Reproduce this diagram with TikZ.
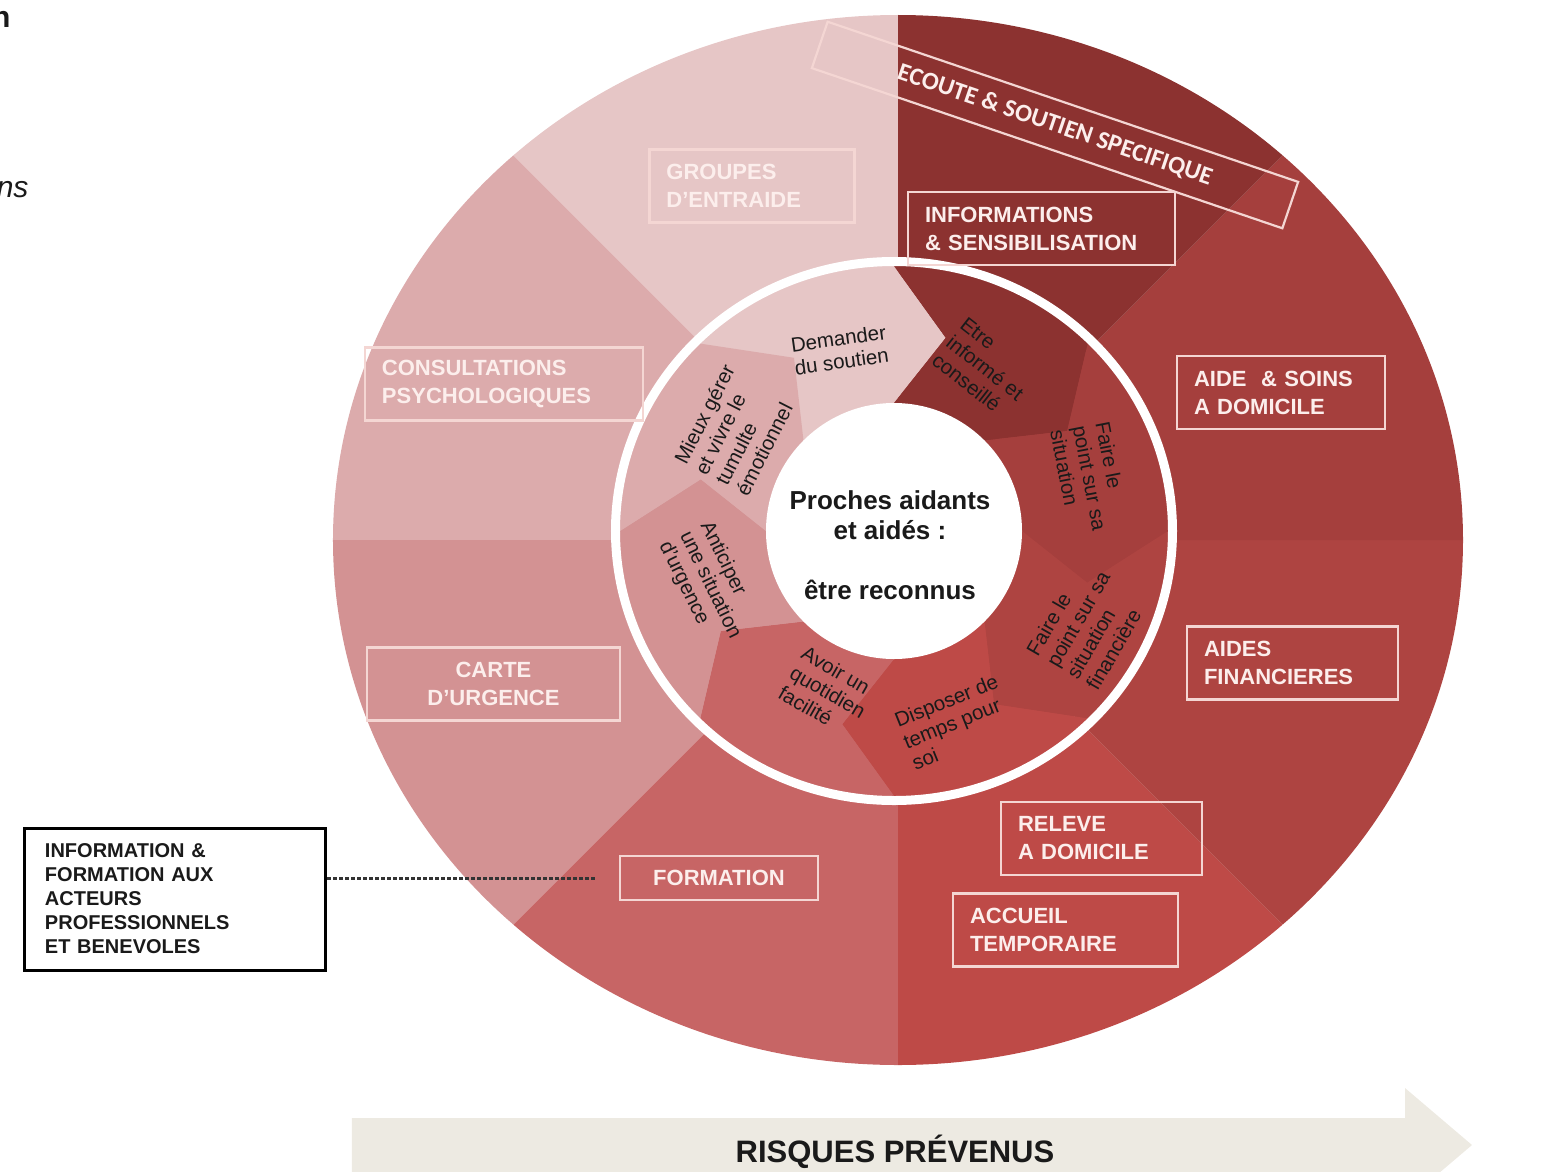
\documentclass[tikz,border=0pt]{standalone}
\usepackage{fontspec}
\setmainfont{Liberation Sans}
\newfontfamily\calibrifont{Carlito}
\definecolor{shadeI}{HTML}{E6C6C6}
\definecolor{shadeII}{HTML}{DCABAC}
\definecolor{shadeIII}{HTML}{D39293}
\definecolor{shadeIV}{HTML}{C76565}
\definecolor{shadeV}{HTML}{BE4A47}
\definecolor{shadeVI}{HTML}{AE4441}
\definecolor{shadeVII}{HTML}{A53F3D}
\definecolor{shadeVIII}{HTML}{8C3230}
\definecolor{tagline}{HTML}{F4D6D3}
\definecolor{tagtext}{HTML}{FCEEEC}
\definecolor{bandfill}{HTML}{EDEAE2}
\definecolor{ink}{HTML}{1A1A1A}
\tikzset{
  % boxes sitting on the outer ring; widths are set per box
  tag/.style      = {draw=tagline, line width=2.2pt, text=tagtext,
                     font=\bfseries\fontsize{22}{28}\selectfont, align=left,
                     inner xsep=17pt, inner ysep=0pt, minimum height=73pt},
  banner/.style   = {draw=tagline, line width=2.2pt, text=tagtext,
                     font=\calibrifont\bfseries\fontsize{25}{28}\selectfont,
                     rotate=-18.8, minimum width=497pt, minimum height=49pt,
                     inner sep=0pt},
  seglabel/.style = {text=ink, font=\fontsize{20.5}{23}\selectfont, align=left,
                     inner sep=0pt},
  centre/.style   = {text=ink, font=\bfseries\fontsize{26}{30}\selectfont,
                     align=center},
  actorbox/.style = {draw=black, line width=3pt, text=ink,
                     font=\bfseries\fontsize{20}{24}\selectfont, align=left,
                     text width=261pt, inner xsep=20pt, inner ysep=0pt,
                     minimum height=142pt},
  leader/.style   = {black!80, line width=3pt, dash pattern=on 4pt off 2pt,
                     shorten >=22pt},
}

\begin{document}
\begin{tikzpicture}[x=1pt, y=1pt]
    \useasboundingbox (-898,-631) rectangle (664,540);

    % outer ring, eight sectors
    \begin{scope}
        \clip (0,0) ellipse [x radius=565, y radius=525];
        \foreach \s/\c in {90/shadeI, 135/shadeII, 180/shadeIII, 225/shadeIV,
                           270/shadeV, 315/shadeVI, 0/shadeVII, 45/shadeVIII}
            \fill[\c] (0,0) -- (\s:900) -- ({\s+22.5}:900) -- ({\s+45}:900) -- cycle;
    \end{scope}

    % inner ring of chevrons, running clockwise
    \begin{scope}[shift={(-4,9)}]
        \foreach \s/\c in {135/shadeI, 90/shadeVIII, 45/shadeVII, 0/shadeVI,
                           -45/shadeV, -90/shadeIV, -135/shadeIII, 180/shadeII}
            \fill[\c] (\s:128) -- ({\s-15}:200) -- (\s:274 and 265)
                arc[start angle=\s, end angle={\s-45}, x radius=274, y radius=265]
                -- ({\s-60}:200) -- ({\s-45}:128)
                arc[start angle={\s-45}, end angle=\s, radius=128] -- cycle;
        \draw[white, line width=9pt] (0,0) ellipse [x radius=278.5, y radius=269.5];
        \fill[white] (0,0) circle [radius=128];
    \end{scope}

    \node[centre] (proches) at (-8,-5)
        {Proches aidants\\et aidés :\\[30pt]être reconnus};

    \node[seglabel, rotate=8, align=center] (soutien) at (-58,190) {Demander\\du soutien};
    \node[seglabel, rotate=-38] (informe)   at (87,172)   {Etre\\informé et\\conseillé};
    \node[seglabel, rotate=-79] (point)     at (192,62)   {Faire le\\point sur sa\\situation};
    \node[seglabel, rotate=60]  (finance)   at (190,-85)  {Faire le\\point sur sa\\situation\\financière};
    \node[seglabel, rotate=22]  (temps)     at (57,-182)  {Disposer de\\temps pour\\soi};
    \node[seglabel, rotate=-30] (quotidien) at (-70,-152) {Avoir un\\quotidien\\facilité};
    \node[seglabel, rotate=-64] (urgence)   at (-188,-45) {Anticiper\\une situation\\d'urgence};
    \node[seglabel, rotate=63]  (tumulte)   at (-163,110) {Mieux gérer\\et vivre le\\tumulte\\émotionnel};

    \node[tag, text width=171pt] (groupes) at (-146,354) {GROUPES\\D'ENTRAIDE};
    \node[tag, text width=233pt] (infos)   at (143.5,311.5) {INFORMATIONS\\\& SENSIBILISATION};
    \node[tag, text width=174pt] (soins)   at (383,147.5) {AIDE \ \& SOINS\\A DOMICILE};
    \node[tag, text width=244pt] (consult) at (-394,156) {CONSULTATIONS\\PSYCHOLOGIQUES};
    \node[tag, text width=177pt] (aides)   at (394.5,-123) {AIDES\\FINANCIERES};
    \node[tag, text width=219pt, align=center] (carte) at (-404.5,-144) {CARTE\\D'URGENCE};
    \node[tag, text width=164pt, align=center, minimum height=44pt]
        (formation) at (-179,-338) {FORMATION};
    \node[tag, text width=167pt] (releve)  at (203.5,-298.5) {RELEVE\\A DOMICILE};
    \node[tag, text width=191pt] (accueil) at (167.5,-390) {ACCUEIL\\TEMPORAIRE};
    \node[banner] (ecoute) at (157,415) {ECOUTE \& SOUTIEN SPECIFIQUE};

    \node[actorbox] (actors) at (-722.5,-359)
        {INFORMATION \&\\FORMATION AUX\\ACTEURS\\PROFESSIONNELS\\ET BENEVOLES};
    \draw[leader] (actors.east |- formation.west) -- (formation.west);

    % arrow band at the bottom and the cut-off words at the left edge
    \begin{scope}
        \clip (-898,-631) rectangle (664,540);
        \fill[bandfill] (-546,-578) -- (507,-578) -- (507,-548) -- (574,-605)
            -- (507,-662) -- (507,-632) -- (-546,-632) -- cycle;
        \node[anchor=base, text=ink, font=\bfseries\fontsize{31}{34}\selectfont]
            (risques) at (-3,-622) {RISQUES PRÉVENUS};
        \node[anchor=base east, text=ink, font=\bfseries\fontsize{30}{32}\selectfont]
            (fragtop) at (-884,512) {n};
        \node[anchor=base east, text=ink, font=\itshape\fontsize{30}{32}\selectfont]
            (fragmid) at (-866,343) {ns};
    \end{scope}
\end{tikzpicture}
\end{document}
